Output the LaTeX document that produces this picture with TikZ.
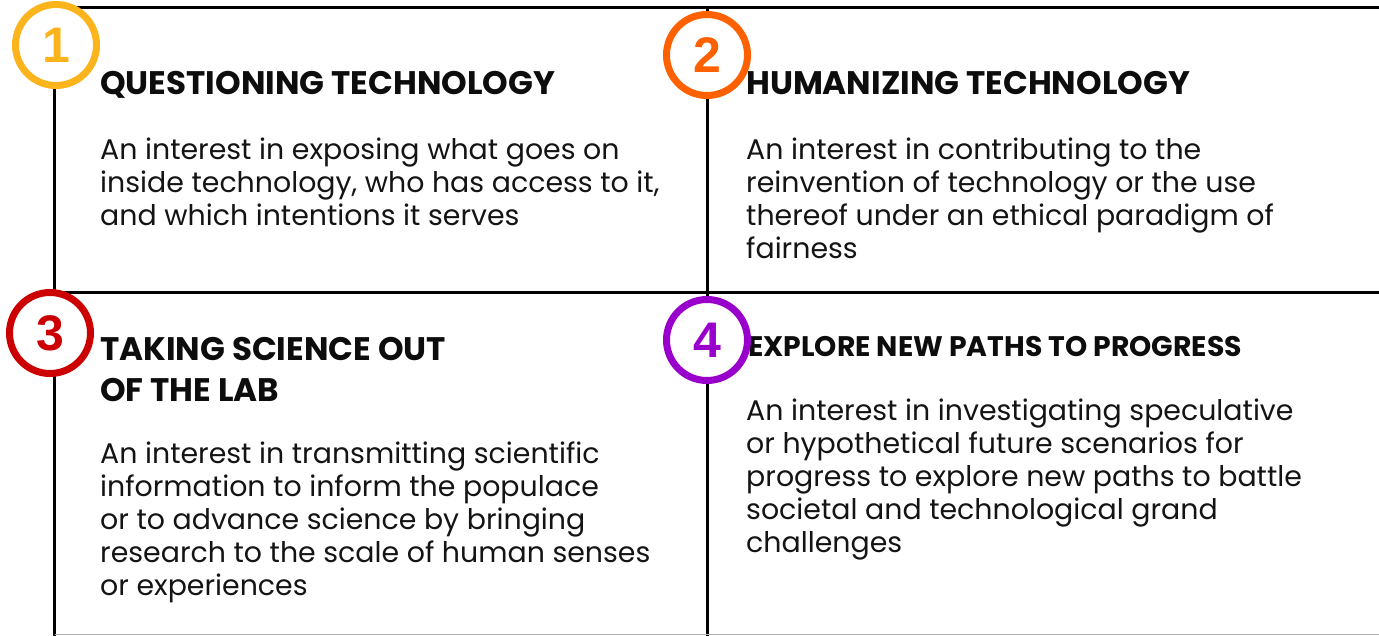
\documentclass[tikz,border=0pt]{standalone}
\usepackage{fontspec}
\setmainfont{Poppins}
\newfontfamily\digitfont{Liberation Sans}
\usetikzlibrary{positioning}
\definecolor{badgeyellow}{RGB}{252,180,28}
\definecolor{badgeorange}{RGB}{255,96,0}
\definecolor{badgered}{RGB}{204,0,0}
\definecolor{badgepurple}{RGB}{153,0,204}

\begin{document}
\begin{tikzpicture}[x=1pt,y=-1pt,
    heading/.style={anchor=base west, inner sep=0pt, align=left, text=black!95, font=\fontsize{32.6}{41}\selectfont\bfseries},
    blurb/.style={anchor=base west, inner sep=0pt, align=left, text=black!92, font=\fontsize{28.4}{33}\selectfont},
    badge/.style={circle, draw=#1, line width=7pt, fill=white, minimum size=81pt, inner sep=0pt, text=#1, font=\digitfont\bfseries\fontsize{50}{50}\selectfont}]

    \useasboundingbox (0,0) rectangle (1379,636);

    % grid
    \draw[line width=3.5pt] (54.5,7.5) -- (1379,7.5);
    \draw[line width=3.5pt] (54.5,7.5) -- (54.5,636);
    \draw[line width=3.5pt] (707.5,7.5) -- (707.5,636);
    \draw[line width=3.5pt] (54.5,292.5) -- (1379,292.5);
    \draw[black!30, line width=1.5pt] (54.5,634.5) -- (1379,634.5);

    % quadrant 1 (base = last line)
    \node[heading] (head1) at (100,95) {QUESTIONING TECHNOLOGY};
    \node[blurb] (text1) at (100,226) {An interest in exposing what goes on\\inside technology, who has access to it,\\and which intentions it serves};

    % quadrant 2
    \node[heading] (head2) at (746,95) {HUMANIZING TECHNOLOGY};
    \node[blurb] (text2) at (746,259) {An interest in contributing to the\\reinvention of technology or the use\\thereof under an ethical paradigm of\\fairness};

    % quadrant 3
    \node[heading] (head3) at (100,401) {TAKING SCIENCE OUT\\OF THE LAB};
    \node[blurb] (text3) at (100,595) {An interest in transmitting scientific\\information to inform the populace\\or to advance science by bringing\\research to the scale of human senses\\or experiences};

    % quadrant 4
    \node[heading, font=\fontsize{28.3}{36}\selectfont\bfseries] (head4) at (748,356) {EXPLORE NEW PATHS TO PROGRESS};
    \node[blurb] (text4) at (746,552) {An interest in investigating speculative\\or hypothetical future scenarios for\\progress to explore new paths to battle\\societal and technological grand\\challenges};

    % badges
    \node[badge=badgeyellow] (num1) at (56,45) {1};
    \node[badge=badgeorange] (num2) at (707,55) {2};
    \node[badge=badgered] (num3) at (50,333) {3};
    \node[badge=badgepurple] (num4) at (707,340) {4};
\end{tikzpicture}
\end{document}
